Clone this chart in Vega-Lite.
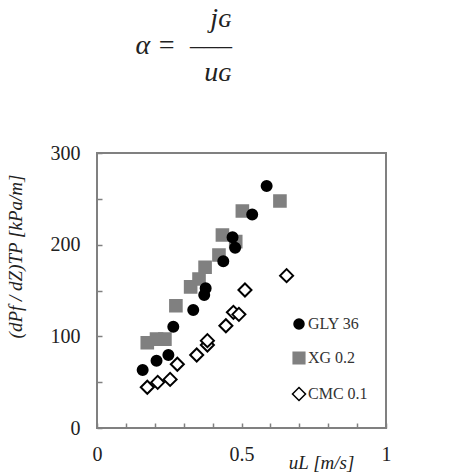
{
  "$schema": "https://vega.github.io/schema/vega-lite/v6.json",
  "width": 289,
  "height": 275,
  "autosize": "none",
  "padding": {"left": 97, "top": 153, "right": 72, "bottom": 48},
  "background": "white",
  "title": {
    "text": ["jɢ", "α\u00a0=\u00a0\u00a0–––", "uɢ"],
    "anchor": "start",
    "align": "right",
    "frame": "group",
    "dx": 135,
    "font": "Liberation Serif",
    "fontSize": 28,
    "fontStyle": "italic",
    "fontWeight": "normal",
    "color": "#222",
    "lineHeight": 27,
    "offset": 56
  },
  "config": {
    "font": "Liberation Serif",
    "view": {"stroke": "#808080", "strokeWidth": 2},
    "axis": {
      "grid": false,
      "domain": false,
      "tickColor": "#808080",
      "tickWidth": 1.5,
      "tickSize": -5,
      "labelFont": "Liberation Serif",
      "labelFontSize": 20,
      "labelColor": "#222",
      "titleFont": "Liberation Serif",
      "titleFontSize": 19,
      "titleFontStyle": "italic",
      "titleFontWeight": "normal",
      "titleColor": "#222"
    },
    "legend": {
      "labelFont": "Liberation Serif",
      "labelFontSize": 16,
      "labelColor": "#333"
    }
  },
  "data": {
    "values": [
      {"fluid": "XG 0.2", "u": 0.174, "dp": 93},
      {"fluid": "XG 0.2", "u": 0.206, "dp": 97},
      {"fluid": "XG 0.2", "u": 0.235, "dp": 97},
      {"fluid": "XG 0.2", "u": 0.273, "dp": 133.4},
      {"fluid": "XG 0.2", "u": 0.324, "dp": 154},
      {"fluid": "XG 0.2", "u": 0.353, "dp": 162.5},
      {"fluid": "XG 0.2", "u": 0.374, "dp": 175.3},
      {"fluid": "XG 0.2", "u": 0.422, "dp": 188.7},
      {"fluid": "XG 0.2", "u": 0.434, "dp": 210.5},
      {"fluid": "XG 0.2", "u": 0.48, "dp": 203.3},
      {"fluid": "XG 0.2", "u": 0.503, "dp": 236.7},
      {"fluid": "XG 0.2", "u": 0.633, "dp": 247.6},
      {"fluid": "GLY 36", "u": 0.158, "dp": 63.3},
      {"fluid": "GLY 36", "u": 0.206, "dp": 73.4},
      {"fluid": "GLY 36", "u": 0.247, "dp": 79.6},
      {"fluid": "GLY 36", "u": 0.264, "dp": 110.5},
      {"fluid": "GLY 36", "u": 0.333, "dp": 128.7},
      {"fluid": "GLY 36", "u": 0.371, "dp": 145},
      {"fluid": "GLY 36", "u": 0.376, "dp": 152.4},
      {"fluid": "GLY 36", "u": 0.437, "dp": 182},
      {"fluid": "GLY 36", "u": 0.469, "dp": 208},
      {"fluid": "GLY 36", "u": 0.478, "dp": 196.7},
      {"fluid": "GLY 36", "u": 0.537, "dp": 233},
      {"fluid": "GLY 36", "u": 0.587, "dp": 264},
      {"fluid": "CMC 0.1", "u": 0.174, "dp": 44.4},
      {"fluid": "CMC 0.1", "u": 0.21, "dp": 49.8},
      {"fluid": "CMC 0.1", "u": 0.253, "dp": 53},
      {"fluid": "CMC 0.1", "u": 0.278, "dp": 69.5},
      {"fluid": "CMC 0.1", "u": 0.345, "dp": 79.6},
      {"fluid": "CMC 0.1", "u": 0.382, "dp": 90.5},
      {"fluid": "CMC 0.1", "u": 0.382, "dp": 95.3},
      {"fluid": "CMC 0.1", "u": 0.446, "dp": 111.6},
      {"fluid": "CMC 0.1", "u": 0.472, "dp": 126.2},
      {"fluid": "CMC 0.1", "u": 0.491, "dp": 124},
      {"fluid": "CMC 0.1", "u": 0.512, "dp": 150.5},
      {"fluid": "CMC 0.1", "u": 0.656, "dp": 166.2}
    ]
  },
  "mark": {"type": "point", "filled": false, "strokeWidth": 2, "opacity": 1},
  "encoding": {
    "x": {
      "field": "u",
      "type": "quantitative",
      "scale": {"domain": [0, 1], "nice": false, "zero": false},
      "axis": {
        "values": [0, 0.1, 0.2, 0.3, 0.4, 0.5, 0.6, 0.7, 0.8, 0.9, 1],
        "format": "~g",
        "labelExpr": "round(datum.value * 10) % 5 === 0 ? datum.label : ''",
        "labelFlush": false,
        "labelPadding": 21,
        "labelFont": "Liberation Serif",
        "title": "uL [m/s]",
        "titleFont": "Liberation Serif",
        "titleX": 224,
        "titleY": 25,
        "titleAlign": "center"
      }
    },
    "y": {
      "field": "dp",
      "type": "quantitative",
      "scale": {"domain": [0, 300], "nice": false},
      "axis": {
        "values": [0, 50, 100, 150, 200, 250, 300],
        "labelExpr": "datum.value % 100 === 0 ? datum.label : ''",
        "labelPadding": 22,
        "labelFont": "Liberation Serif",
        "title": "(dPf / dZ)TP [kPa/m]",
        "titleFont": "Liberation Serif",
        "titleX": -72,
        "titleY": 103,
        "titleAlign": "center"
      }
    },
    "shape": {
      "field": "fluid",
      "type": "nominal",
      "scale": {"domain": ["GLY 36", "XG 0.2", "CMC 0.1"], "range": ["circle", "square", "diamond"]},
      "legend": {"title": null, "orient": "none", "legendX": 194, "legendY": 163, "rowPadding": 17, "labelOffset": 1}
    },
    "fill": {
      "field": "fluid",
      "type": "nominal",
      "scale": {"domain": ["GLY 36", "XG 0.2", "CMC 0.1"], "range": ["#000000", "#808080", "#ffffff"]},
      "legend": {"title": null, "orient": "none", "legendX": 194, "legendY": 163, "rowPadding": 17, "labelOffset": 1}
    },
    "stroke": {
      "field": "fluid",
      "type": "nominal",
      "scale": {"domain": ["GLY 36", "XG 0.2", "CMC 0.1"], "range": ["#000000", "#808080", "#000000"]},
      "legend": {"title": null, "orient": "none", "legendX": 194, "legendY": 163, "rowPadding": 17, "labelOffset": 1}
    },
    "size": {
      "field": "fluid",
      "type": "nominal",
      "scale": {"domain": ["GLY 36", "XG 0.2", "CMC 0.1"], "range": [100, 170, 100]},
      "legend": {"title": null, "orient": "none", "legendX": 194, "legendY": 163, "rowPadding": 17, "labelOffset": 1}
    }
  }
}
